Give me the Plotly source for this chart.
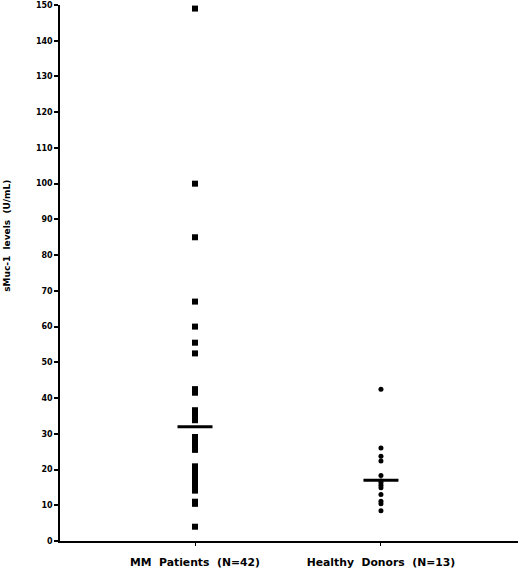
import plotly.graph_objects as go

# values (U/mL)
mm_patients = [149, 100, 85, 67, 60, 55.5, 52.5, 42.5, 41.5,
               36.6, 36, 35.6, 35.2, 34.5, 33.8,
               29.1, 28.4, 27.6, 27.2, 26.9, 26.2, 25.5,
               20.9, 20.6, 20.3, 19.6, 19, 18.7, 18.4, 17.8, 17.2, 16.6, 16, 15.7, 15.4, 14.8, 14.1,
               11, 10.9, 10.7, 10.4, 4]
healthy_donors = [42.5, 26, 23.7, 22.4, 18.3, 16.8, 16.3, 15.6, 14.9, 13, 11.1, 10.4, 8.5]
group_means = [32, 17]
group_labels = ["MM\u00a0\u00a0Patients\u00a0\u00a0(N=42)", "Healthy\u00a0\u00a0Donors\u00a0\u00a0(N=13)"]
group_pos = [1, 2]

font = dict(family="DejaVu Sans, sans-serif", color="black", weight="bold")

fig = go.Figure()

fig.add_trace(go.Scatter(
    x=[group_pos[0]] * len(mm_patients), y=mm_patients,
    mode="markers", cliponaxis=False,
    marker=dict(symbol="square", size=6, color="black"),
))
fig.add_trace(go.Scatter(
    x=[group_pos[1]] * len(healthy_donors), y=healthy_donors,
    mode="markers", cliponaxis=False,
    marker=dict(symbol="circle", size=5, color="black"),
))
# mean bars
fig.add_trace(go.Scatter(
    x=group_pos, y=group_means,
    mode="markers",
    marker=dict(symbol="line-ew", size=25, line=dict(width=3, color="black")),
))

fig.update_layout(
    width=520, height=571,
    margin=dict(l=60, r=2, t=5, b=30),
    plot_bgcolor="white", paper_bgcolor="white",
    showlegend=False,
    font=font,
    annotations=[dict(
        text="sMuc-1\u00a0\u00a0levels\u00a0\u00a0(U/mL)", textangle=-90,
        xref="paper", yref="paper", x=-0.115, y=0.57,
        xanchor="center", yanchor="middle", showarrow=False,
        font=dict(size=9, **font),
    )],
)
fig.update_xaxes(
    range=[0.274, 2.737], tickvals=group_pos, ticktext=group_labels,
    showline=True, linecolor="black", linewidth=1.5,
    ticks="outside", ticklen=3, tickcolor="black",
    showgrid=False, zeroline=False, automargin=False,
    ticklabelstandoff=7,
    tickfont=dict(size=10.8, **font),
)
fig.update_yaxes(
    range=[0, 150], dtick=10,
    showline=True, linecolor="black", linewidth=1.5,
    ticks="outside", ticklen=4, tickwidth=1.5, tickcolor="black",
    showgrid=False, zeroline=False, automargin=False,
    ticklabeloverflow="allow",
    tickfont=dict(size=8, **font),
)

# drop the default page margin so the figure sits at the window corner
fig.write_html("out.html", config={"displayModeBar": False},
               post_script="document.body.style.margin='0';")
